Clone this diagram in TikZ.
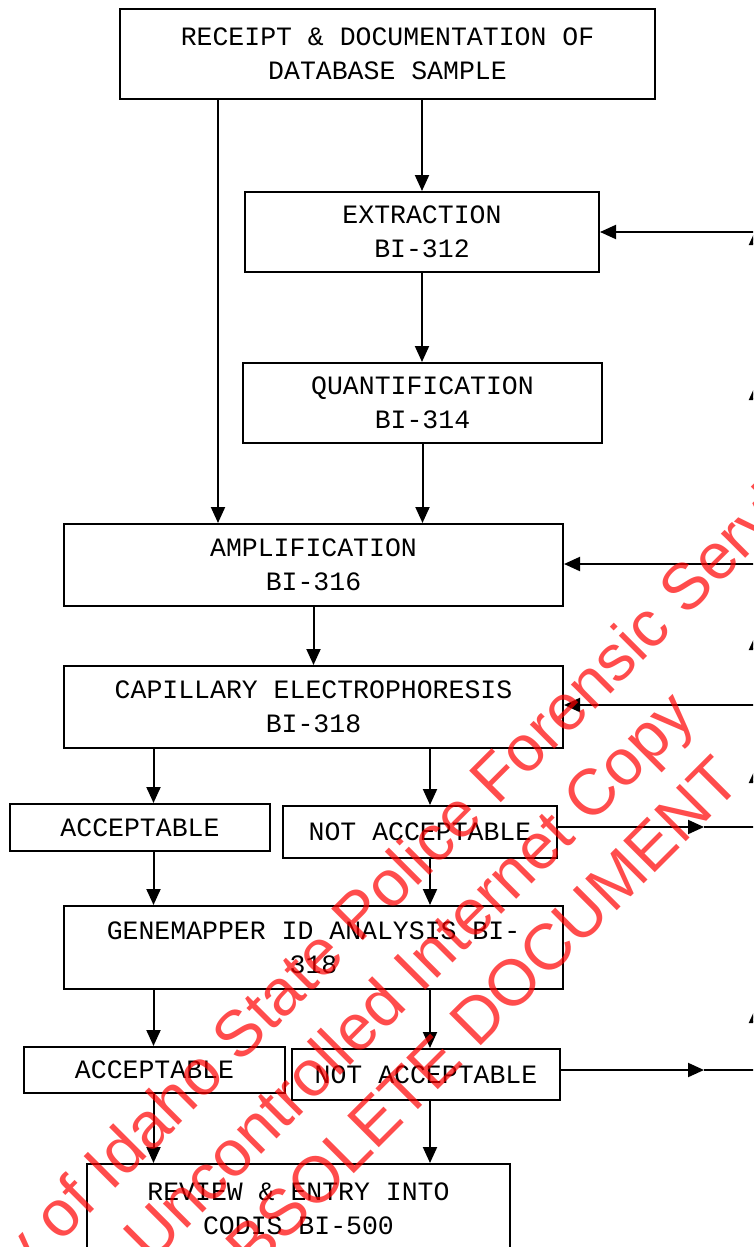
\documentclass[tikz,border=0pt]{standalone}
\usepackage{fontspec}
\setmonofont{Liberation Mono}
\newfontfamily\stampfont{Liberation Sans}
\usetikzlibrary{arrows.meta}

\tikzset{
  box/.style={draw,line width=2pt,rectangle,inner sep=0pt,align=center,
    font=\ttfamily\fontsize{26.5}{34}\selectfont},
  arr/.style={line width=2pt,-{Triangle[length=16pt,width=14pt]}},
  wire/.style={line width=2pt},
}

\begin{document}
\begin{tikzpicture}[x=1pt,y=-1pt]
\useasboundingbox (0,0) rectangle (753,1247);
\clip (0,0) rectangle (753,1247);

\node[box,minimum width=535,minimum height=90] (receipt) at (387.5,54) {RECEIPT \& DOCUMENTATION OF\\DATABASE SAMPLE};
\node[box,minimum width=354,minimum height=80] (extraction) at (422,232) {EXTRACTION\\BI-312};
\node[box,minimum width=359,minimum height=80] (quant) at (422.5,403) {QUANTIFICATION\\BI-314};
\node[box,minimum width=499,minimum height=82] (ampl) at (313.5,565) {AMPLIFICATION\\BI-316};
\node[box,minimum width=499,minimum height=82] (cap) at (313.5,707) {CAPILLARY ELECTROPHORESIS\\BI-318};
\node[box,minimum width=260,minimum height=47] (acc1) at (140,827.5) {ACCEPTABLE};
\node[box,minimum width=274,minimum height=52] (nacc1) at (420,832) {NOT ACCEPTABLE};
\node[box,minimum width=499,minimum height=83] (gene) at (313.5,947.5) {GENEMAPPER ID ANALYSIS BI-\\318};
\node[box,minimum width=261,minimum height=46] (acc2) at (154.5,1070) {ACCEPTABLE};
\node[box,minimum width=268,minimum height=51] (nacc2) at (426,1074.5) {NOT ACCEPTABLE};
\node[box,minimum width=423,minimum height=90] (review) at (298.5,1209) {REVIEW \& ENTRY INTO\\CODIS BI-500};

\coordinate (skip) at (218,0);
\coordinate (lcol) at (153.5,0);
\coordinate (rcol) at (430,0);
\draw[arr] (receipt.south -| skip) -- (ampl.north -| skip);
\draw[arr] (receipt.south -| extraction.north) -- (extraction.north);
\draw[arr] (extraction.south) -- (extraction.south |- quant.north);
\draw[arr] (quant.south) -- (quant.south |- ampl.north);
\draw[arr] (ampl.south) -- (ampl.south |- cap.north);
\draw[arr] (cap.south -| lcol) -- (acc1.north -| lcol);
\draw[arr] (cap.south -| rcol) -- (nacc1.north -| rcol);
\draw[arr] (acc1.south -| lcol) -- (gene.north -| lcol);
\draw[arr] (nacc1.south -| rcol) -- (gene.north -| rcol);
\draw[arr] (gene.south -| lcol) -- (acc2.north -| lcol);
\draw[arr] (gene.south -| rcol) -- (nacc2.north -| rcol);
\draw[arr] (acc2.south -| lcol) -- (review.north -| lcol);
\draw[arr] (nacc2.south -| rcol) -- (review.north -| rcol);

\coordinate (ret1) at (760,232);
\coordinate (ret2) at (760,564);
\coordinate (ret3) at (760,705);
\draw[arr] (ret1) -- (ret1 -| extraction.east);
\draw[arr] (ret2) -- (ret2 -| ampl.east);
\draw[arr] (ret3) -- (ret3 -| cap.east);

\coordinate (fail1) at (704,827);
\coordinate (fail1r) at (760,827);
\coordinate (fail2) at (704,1070);
\coordinate (fail2r) at (760,1070);
\draw[arr] (nacc1.east |- fail1) -- (fail1);
\draw[wire] (fail1) -- (fail1r);
\draw[arr] (nacc2.east |- fail2) -- (fail2);
\draw[wire] (fail2) -- (fail2r);

\foreach \y in {245,400,650,783,1023}
  \draw[arr] (756,\y+40) -- (756,\y-16);

\node[text=red,opacity=0.7,rotate=45,align=center,inner sep=0pt,
  font=\stampfont\fontsize{65}{79}\selectfont] (stamp) at (408,975)
  {Property of Idaho State Police Forensic Services\\Uncontrolled Internet Copy\\OBSOLETE DOCUMENT};

\end{tikzpicture}
\end{document}
